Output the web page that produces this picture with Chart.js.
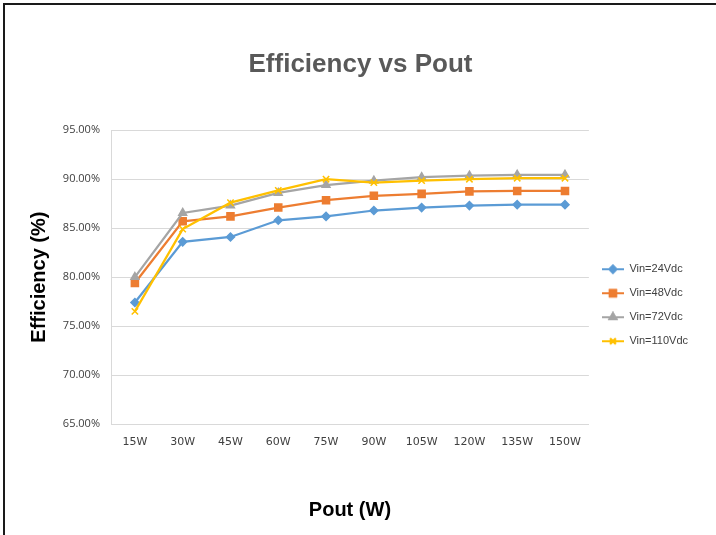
<!DOCTYPE html>
<html>
<head>
<meta charset="utf-8">
<script src="https://cdn.jsdelivr.net/npm/chart.js@4/dist/chart.umd.min.js"></script>
<style>
  html, body { margin: 0; padding: 0; background: #fff; }
  #wrap { position: relative; width: 716px; height: 535px; }
  #frame { position: absolute; left: 3px; top: 3px; right: 0; bottom: 0;
           border-top: 2px solid #1a1a1a; border-left: 2px solid #1a1a1a; pointer-events: none; }
</style>
</head>
<body>
<div id="wrap">
  <canvas id="effChart" width="716" height="535"></canvas>
  <div id="frame"></div>
</div>
<script>
// data
const categories = ['15W', '30W', '45W', '60W', '75W', '90W', '105W', '120W', '135W', '150W'];
const vin24  = [77.4, 83.6, 84.1, 85.8, 86.2, 86.8, 87.1, 87.3, 87.4, 87.4];
const vin48  = [79.4, 85.7, 86.2, 87.1, 87.85, 88.3, 88.5, 88.75, 88.8, 88.8];
const vin72  = [80.0, 86.55, 87.3, 88.6, 89.4, 89.85, 90.2, 90.35, 90.45, 90.45];
const vin110 = [76.5, 84.9, 87.6, 88.85, 90.0, 89.65, 89.85, 90.0, 90.1, 90.1];
const seriesNames = ['Vin=24Vdc', 'Vin=48Vdc', 'Vin=72Vdc', 'Vin=110Vdc'];
const yTicks = [65, 70, 75, 80, 85, 90, 95];

const colors = ['#5B9BD5', '#ED7D31', '#A5A5A5', '#FFC000'];
const markers = ['rectRot', 'rect', 'triangle', 'crossRot'];
const markerSizes = [4, 5, 4.5, 4.5];

// small line+marker swatch for the legend
function swatch(color, style, r) {
    const c = document.createElement('canvas');
    c.width = 22; c.height = 12;
    const g = c.getContext('2d');
    g.strokeStyle = color; g.fillStyle = color; g.lineWidth = 2;
    g.beginPath(); g.moveTo(0, 6); g.lineTo(22, 6); g.stroke();
    Chart.helpers.drawPoint(g, { pointStyle: style, radius: r, borderWidth: 1.5 }, 11, 6);
    g.fill(); g.stroke();
    return c;
}

const datasets = [vin24, vin48, vin72, vin110].map((vals, i) => ({
    label: seriesNames[i],
    data: vals,
    borderColor: colors[i],
    backgroundColor: colors[i],
    pointStyle: markers[i],
    pointRadius: markerSizes[i],
    pointBorderWidth: 1.5,
    borderWidth: 2.25,
    tension: 0,
    order: 4 - i  // last series drawn on top, like the original
}));

const ctx = document.getElementById('effChart').getContext('2d');
new Chart(ctx, {
    type: 'line',
    data: { labels: categories, datasets: datasets },
    options: {
        responsive: false,
        animation: false,
        layout: { padding: { left: 23, right: 18, top: 0, bottom: 9 } },
        plugins: {
            title: {
                display: true,
                text: 'Efficiency vs Pout',
                color: '#595959',
                font: { family: 'Liberation Sans', size: 26, weight: 'bold' },
                padding: { top: 49, bottom: 50 }
            },
            legend: {
                position: 'right',
                title: { display: true, text: ' ', padding: { top: 70, bottom: 0 } },
                labels: {
                    color: '#404040',
                    font: { family: 'Liberation Sans', size: 11 },
                    usePointStyle: true,
                    pointStyleWidth: 22,
                    padding: 13,
                    sort: (a, b) => a.datasetIndex - b.datasetIndex,
                    generateLabels: function (chart) {
                        const items = Chart.defaults.plugins.legend.labels.generateLabels(chart);
                        items.forEach(it => {
                            const i = it.datasetIndex;
                            it.pointStyle = swatch(colors[i], markers[i], markerSizes[i] - 0.5);
                        });
                        return items;
                    }
                }
            },
            tooltip: { enabled: false }
        },
        scales: {
            x: {
                offset: true,
                grid: { display: false, drawTicks: false },
                border: { color: '#d9d9d9' },
                ticks: { color: '#404040', font: { family: 'DejaVu Sans', size: 11 }, padding: 12 },
                title: {
                    display: true,
                    text: 'Pout (W)',
                    color: '#000',
                    font: { family: 'Liberation Sans', size: 20, weight: 'bold' }
                },
                afterFit: function (s) { s.height = 102; }
            },
            y: {
                min: yTicks[0],
                max: yTicks[yTicks.length - 1],
                afterBuildTicks: function (s) { s.ticks = yTicks.map(v => ({ value: v })); },
                grid: { color: '#d9d9d9', drawTicks: false },
                border: { color: '#d9d9d9' },
                ticks: {
                    color: '#404040',
                    font: { family: 'Open Sans', size: 11 },
                    padding: 11,
                    callback: v => v.toFixed(2) + '%'
                },
                title: {
                    display: true,
                    text: 'Efficiency (%)',
                    color: '#000',
                    font: { family: 'Liberation Sans', size: 20, weight: 'bold' }
                },
                afterFit: function (s) { s.width = 88; }
            }
        }
    }
});
</script>
</body>
</html>
